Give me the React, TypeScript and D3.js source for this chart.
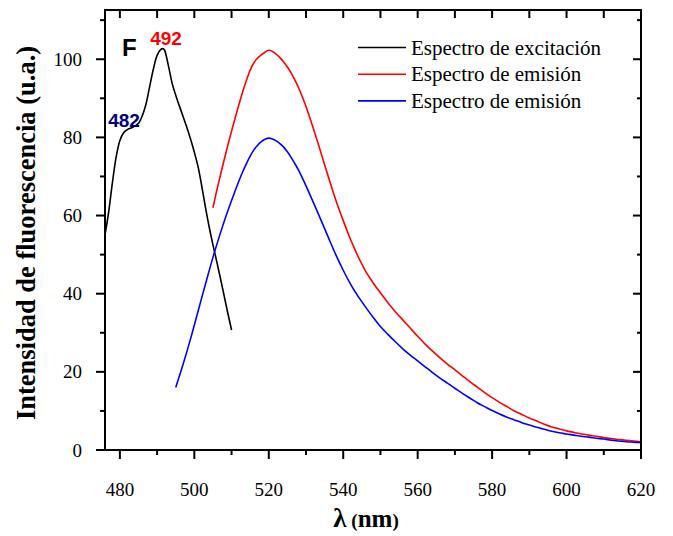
import React from "react";
import * as d3 from "d3";

const excX = [476, 477, 478, 479, 480, 481, 482, 483, 484, 485, 486, 487, 488, 489, 490, 491, 491.6, 492, 493, 494, 495, 496, 497, 498, 499, 500, 501, 502, 503, 504, 505, 506, 507, 508, 509, 510];
const excY = [55, 61, 68.5, 75, 79.2, 81.2, 82, 82.4, 82.9, 83.6, 85.5, 88.5, 93, 97.5, 101, 102.5, 102.7, 102.3, 98.5, 94, 90.8, 88, 85.3, 82.5, 79.5, 76.2, 72.5, 67.5, 62, 57, 52.5, 48.3, 44, 39.5, 35, 30.7];

const redX = [505, 506, 507, 508, 509, 510, 511, 512, 513, 514, 515, 516, 517, 518, 519, 520, 521, 522, 523, 524, 525, 526, 527, 528, 529, 530, 531, 532, 533, 534, 535, 536, 537, 538, 539, 540, 541, 542, 543, 544, 545, 546, 548, 550, 552, 554, 556, 558, 560, 562, 564, 566, 568, 570, 572, 574, 576, 578, 580, 582, 584, 586, 588, 590, 592, 594, 596, 598, 600, 602, 604, 606, 608, 610, 612, 614, 616, 618, 620];
const redY = [62, 66.3, 70.3, 74.2, 78, 81.6, 85.1, 88.5, 91.7, 94.6, 97.2, 99.1, 100.3, 101.1, 101.8, 102.3, 102, 101.3, 100.4, 99.3, 98, 96.5, 94.7, 92.7, 90.4, 87.9, 85.1, 82.2, 79.2, 76.1, 73, 69.9, 66.9, 64, 61.3, 58.7, 56.2, 53.8, 51.6, 49.5, 47.6, 45.8, 42.8, 40.2, 37.7, 35.4, 33.3, 31.2, 29.1, 27.1, 25.3, 23.6, 22, 20.5, 19, 17.5, 16.1, 14.7, 13.4, 12.2, 11.1, 10, 9.1, 8.2, 7.4, 6.6, 5.9, 5.4, 4.9, 4.5, 4.1, 3.8, 3.5, 3.2, 2.9, 2.7, 2.5, 2.3, 2.1];

const blueX = [495, 497, 499, 501, 503, 505, 507, 509, 511, 512, 513, 514, 515, 516, 517, 518, 519, 520, 521, 522, 523, 524, 525, 526, 527, 528, 530, 532, 534, 536, 538, 540, 542, 544, 546, 548, 550, 552, 554, 556, 558, 560, 562, 564, 566, 568, 570, 572, 574, 576, 578, 580, 582, 584, 586, 588, 590, 592, 594, 596, 598, 600, 602, 604, 606, 608, 610, 612, 614, 616, 618, 620];
const blueY = [16, 22, 28.5, 35.5, 42.5, 49.3, 55.5, 61.2, 66.4, 68.9, 71.2, 73.3, 75.2, 76.8, 78, 78.9, 79.5, 79.8, 79.6, 79.1, 78.4, 77.5, 76.3, 74.9, 73.3, 71.6, 67.6, 63.3, 58.9, 54.4, 50, 46, 42.4, 39.3, 36.6, 34, 31.6, 29.6, 27.7, 25.9, 24.3, 22.8, 21.3, 19.8, 18.4, 17.1, 15.8, 14.5, 13.3, 12.1, 11.1, 10.1, 9.2, 8.4, 7.7, 7, 6.4, 5.8, 5.3, 4.8, 4.4, 4.1, 3.8, 3.5, 3.3, 3, 2.8, 2.5, 2.3, 2.1, 2, 1.9];

const xTicks = [480, 500, 520, 540, 560, 580, 600, 620];
const xMinor = [490, 510, 530, 550, 570, 590, 610];
const yTicks = [0, 20, 40, 60, 80, 100];
const yMinor = [10, 30, 50, 70, 90, 110];

const legendLabels = ["Espectro de excitación", "Espectro de emisión", "Espectro de emisión"];
const colors = ["#000000", "#ff0000", "#0000ff"];

export default function App() {
  const left = 105, right = 641, top = 10, bottom = 450;
  const x = d3.scaleLinear().domain([476, 620]).range([left, right]);
  const y = d3.scaleLinear().domain([0, 112.6]).range([bottom, top]);
  const line = d3
    .line<[number, number]>()
    .x((d) => x(d[0]))
    .y((d) => y(d[1]))
    .curve(d3.curveCatmullRom.alpha(0.5));

  const series = [
    excX.map((v, i) => [v, excY[i]] as [number, number]),
    redX.map((v, i) => [v, redY[i]] as [number, number]),
    blueX.map((v, i) => [v, blueY[i]] as [number, number]),
  ];

  const serif = "Liberation Serif";
  const sans = "Liberation Sans";

  return (
    <svg
      width={673}
      height={536}
      style={{ position: "absolute", left: 0, top: 0, background: "#fff" }}
    >
      <rect width={673} height={536} fill="#fff" />
      {series.map((s, i) => (
        <path key={i} d={line(s) || ""} fill="none" stroke={colors[i]} strokeWidth={1.6} />
      ))}
      <rect x={left} y={top} width={right - left} height={bottom - top} fill="none" stroke="#000" strokeWidth={2} />
      {xTicks.map((t) => (
        <g key={"xb" + t}>
          <line x1={x(t)} x2={x(t)} y1={bottom} y2={bottom + 9} stroke="#000" strokeWidth={2} />
          <line x1={x(t)} x2={x(t)} y1={top} y2={top + 8} stroke="#000" strokeWidth={2} />
          <text x={x(t)} y={496} textAnchor="middle" style={{ fontFamily: serif }} fontSize={19} fill="#000">
            {t}
          </text>
        </g>
      ))}
      {xMinor.map((t) => (
        <g key={"xm" + t}>
          <line x1={x(t)} x2={x(t)} y1={bottom} y2={bottom + 5} stroke="#000" strokeWidth={2} />
          <line x1={x(t)} x2={x(t)} y1={top} y2={top + 8} stroke="#000" strokeWidth={2} />
        </g>
      ))}
      {yTicks.map((t) => (
        <g key={"yt" + t}>
          <line x1={left - 9} x2={left} y1={y(t)} y2={y(t)} stroke="#000" strokeWidth={2} />
          <line x1={right - 8} x2={right} y1={y(t)} y2={y(t)} stroke="#000" strokeWidth={2} />
          <text x={82} y={y(t)} textAnchor="end" dominantBaseline="central" style={{ fontFamily: serif }} fontSize={19} fill="#000">
            {t}
          </text>
        </g>
      ))}
      {yMinor.map((t) => (
        <g key={"ym" + t}>
          <line x1={left - 5} x2={left} y1={y(t)} y2={y(t)} stroke="#000" strokeWidth={2} />
          <line x1={right - 4} x2={right} y1={y(t)} y2={y(t)} stroke="#000" strokeWidth={2} />
        </g>
      ))}
      {legendLabels.map((l, i) => {
        const ly = 47.5 + i * 26.7;
        return (
          <g key={"lg" + i}>
            <line x1={358} x2={406} y1={ly} y2={ly} stroke={colors[i]} strokeWidth={1.6} />
            <text x={411} y={ly} dominantBaseline="central" style={{ fontFamily: serif }} fontSize={21} fill="#000">
              {l}
            </text>
          </g>
        );
      })}
      <text x={122} y={56} style={{ fontFamily: sans }} fontWeight="bold" fontSize={24} fill="#000">
        F
      </text>
      <text x={166} y={45} textAnchor="middle" style={{ fontFamily: sans }} fontWeight="bold" fontSize={19} fill="#ff0000">
        492
      </text>
      <text x={124} y={127} textAnchor="middle" style={{ fontFamily: sans }} fontWeight="bold" fontSize={19} fill="#000080">
        482
      </text>
      <text
        transform={`translate(35, 233) rotate(-90)`}
        textAnchor="middle"
        style={{ fontFamily: serif }}
        fontWeight="bold"
        fontSize={26.5}
        fill="#000"
      >
        Intensidad de fluorescencia (u.a.)
      </text>
      <text x={366} y={527} textAnchor="middle" style={{ fontFamily: serif }} fontWeight="bold" fill="#000">
        <tspan fontSize={27}>λ</tspan>
        <tspan fontSize={19}> (</tspan>
        <tspan fontSize={25}>nm</tspan>
        <tspan fontSize={19}>)</tspan>
      </text>
    </svg>
  );
}
